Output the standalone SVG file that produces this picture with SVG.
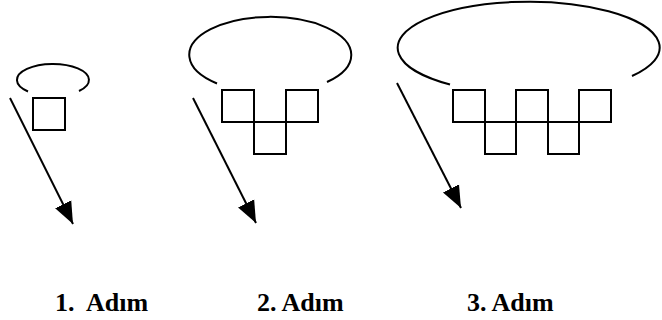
<svg xmlns="http://www.w3.org/2000/svg" width="662" height="320" viewBox="0 0 662 320">
<defs>
<marker id="ah" markerUnits="userSpaceOnUse" markerWidth="24" markerHeight="22" viewBox="0 0 24 22" refX="22" refY="11" orient="auto">
<path d="M0,2 L22,11 L0,20 Z" fill="#000"/>
</marker>
</defs>
<style>
.s{fill:none;stroke:#000;stroke-width:2}
.a{fill:none;stroke:#000;stroke-width:2;marker-end:url(#ah)}
.t{font-family:"Liberation Serif","Times New Roman",serif;font-weight:bold;font-size:26px;fill:#000}
</style>
<rect width="662" height="320" fill="#fff"/>
<g id="step1">
<path class="s" d="M28,91.5 A36,16 0 1 1 79,91"/>
<rect class="s" x="33" y="98" width="32" height="32"/>
</g>
<g id="step2">
<path class="s" d="M217,83.5 A81,38 0 1 1 327,82"/>
<path class="s" d="M222,90 H254 V122 H286 V90 H318 V122 H222 Z M254,122 V154 H286 V122"/>
</g>
<g id="step3">
<path class="s" d="M450,84.5 A131,46 0 1 1 632,76"/>
<path class="s" d="M453,90 H485 V122 H516 V90 H548 V122 H579 V90 H611 V122 H453 Z M485,122 V154 H516 V122 M548,122 V154 H579 V122"/>
</g>
<g id="connectors">
<line class="a" x1="10" y1="98" x2="73" y2="224"/>
<line class="a" x1="193" y1="98" x2="256" y2="223"/>
<line class="a" x1="397" y1="83" x2="461" y2="208"/>
</g>
<g id="labels">
<text class="t" x="55" y="311" xml:space="preserve">1.  Adım</text>
<text class="t" x="257" y="311">2. Adım</text>
<text class="t" x="467" y="311">3. Adım</text>
</g>
</svg>
